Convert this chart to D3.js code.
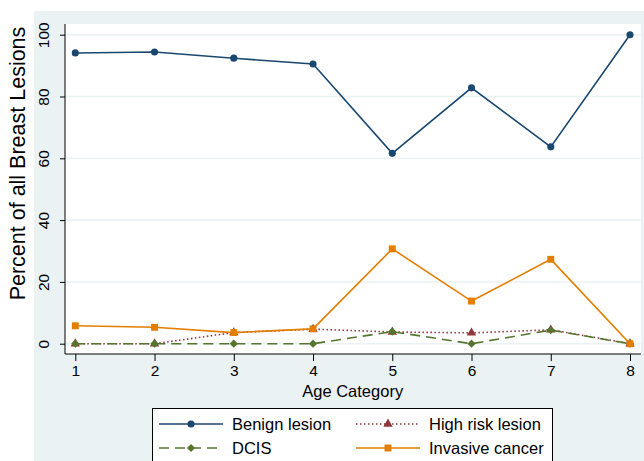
<!DOCTYPE html>
<meta charset="utf-8">
<style>
  body { margin: 0; background: #fff; }
  text { font-family: "Liberation Sans", Arial, sans-serif; fill: #000; }
</style>
<body>
<script src="https://d3js.org/d3.v7.min.js"></script>
<script>
    var ages = [1, 2, 3, 4, 5, 6, 7, 8];
    var benign = [94.1, 94.4, 92.4, 90.5, 61.6, 82.8, 63.7, 100];
    var highRisk = [0, 0, 3.6, 4.7, 3.8, 3.5, 4.5, 0];
    var dcis = [0, 0, 0, 0, 3.9, 0, 4.4, 0];
    var invasive = [5.8, 5.3, 3.6, 4.8, 30.7, 13.8, 27.3, 0];
    var yTicks = [0, 20, 40, 60, 80, 100];

    var width = 644, height = 461;

    // diamond drawn as a square turned 45 degrees, like Stata's marker
    var series = [
        {name: 'Benign lesion', values: benign, color: '#1a476f', dash: null, symbol: d3.symbolCircle, size: 40, rot: 0},
        {name: 'High risk lesion', values: highRisk, color: '#90353b', dash: '1.5,2.5', symbol: d3.symbolTriangle, size: 38, rot: 0},
        {name: 'DCIS', values: dcis, color: '#55752f', dash: '10,6', symbol: d3.symbolSquare, size: 34, rot: 45},
        {name: 'Invasive cancer', values: invasive, color: '#e37e00', dash: null, symbol: d3.symbolSquare, size: 48, rot: 0}
    ];

    var svg = d3.select('body').append('svg')
        .attr('width', width)
        .attr('height', height);

    // outer graph region
    svg.append('rect').attr('x', 34).attr('y', 11)
        .attr('width', width - 34).attr('height', height - 11)
        .attr('fill', '#eaf2f3');

    var plot = {left: 65, top: 24, right: 641, bottom: 354};
    svg.append('rect').attr('x', plot.left).attr('y', plot.top)
        .attr('width', plot.right - plot.left).attr('height', plot.bottom - plot.top)
        .attr('fill', '#fff');

    var x = d3.scaleLinear().domain([1, 8]).range([75.3, 630]);
    var y = d3.scaleLinear().domain([0, 100]).range([343.7, 34.7]);

    // gridlines
    svg.append('g').selectAll('line').data(yTicks).enter().append('line')
        .attr('x1', plot.left).attr('x2', plot.right)
        .attr('y1', d => y(d)).attr('y2', d => y(d))
        .attr('stroke', '#eaf2f3').attr('stroke-width', 1.5);

    // y axis
    var yAxis = svg.append('g')
        .attr('transform', 'translate(' + plot.left + ',0)')
        .call(d3.axisLeft(y).tickValues(yTicks).tickSize(5).tickPadding(5));
    yAxis.select('.domain').attr('d', 'M0,' + plot.top + 'V' + plot.bottom).attr('stroke', '#000');
    yAxis.selectAll('.tick line').attr('stroke', '#000');
    yAxis.selectAll('.tick text')
        .attr('font-size', 15.5)
        .attr('font-family', '"Liberation Sans", Arial, sans-serif')
        .attr('text-anchor', 'middle')
        .attr('x', 0).attr('dy', 0)
        .attr('transform', 'translate(-16.5,0) rotate(-90)');

    // x axis
    var xAxis = svg.append('g')
        .attr('transform', 'translate(0,' + plot.bottom + ')')
        .call(d3.axisBottom(x).tickValues(ages).tickSize(7).tickPadding(4).tickFormat(d3.format('d')));
    xAxis.select('.domain').attr('d', 'M' + plot.left + ',0H' + plot.right).attr('stroke', '#000');
    xAxis.selectAll('.tick line').attr('stroke', '#000');
    xAxis.selectAll('.tick text')
        .attr('font-size', 15.5)
        .attr('font-family', '"Liberation Sans", Arial, sans-serif');

    // axis titles
    svg.append('text')
        .attr('transform', 'translate(24.5,163.5) rotate(-90)')
        .attr('text-anchor', 'middle')
        .attr('font-size', 21.5)
        .text('Percent of all Breast Lesions');

    svg.append('text')
        .attr('x', 352.7)
        .attr('y', 397)
        .attr('text-anchor', 'middle')
        .attr('font-size', 16.5)
        .text('Age Category');

    // lines and markers
    var line = d3.line().x((d, i) => x(ages[i])).y(d => y(d));
    series.forEach(function (s) {
        svg.append('path')
            .datum(s.values)
            .attr('d', line)
            .attr('fill', 'none')
            .attr('stroke', s.color)
            .attr('stroke-width', 1.6)
            .attr('stroke-dasharray', s.dash);
        svg.append('g').selectAll('path').data(s.values).enter().append('path')
            .attr('transform', (d, i) => 'translate(' + x(ages[i]) + ',' + y(d) + ') rotate(' + s.rot + ')')
            .attr('d', d3.symbol().type(s.symbol).size(s.size))
            .attr('fill', s.color);
    });

    // legend
    var lg = svg.append('g');
    lg.append('rect').attr('x', 152.5).attr('y', 408.5)
        .attr('width', 400).attr('height', 60)
        .attr('fill', '#fff').attr('stroke', '#000').attr('stroke-width', 1);

    var legendItems = [
        {s: series[0], col: 0, row: 0},
        {s: series[1], col: 1, row: 0},
        {s: series[2], col: 0, row: 1},
        {s: series[3], col: 1, row: 1}
    ];
    var colX = [159, 356], rowY = [424, 448];
    legendItems.forEach(function (it) {
        var x0 = colX[it.col], yy = rowY[it.row];
        lg.append('line').attr('x1', x0).attr('x2', x0 + 64)
            .attr('y1', yy).attr('y2', yy)
            .attr('stroke', it.s.color).attr('stroke-width', 1.6)
            .attr('stroke-dasharray', it.s.dash);
        lg.append('path')
            .attr('transform', 'translate(' + (x0 + 32) + ',' + yy + ') rotate(' + it.s.rot + ')')
            .attr('d', d3.symbol().type(it.s.symbol).size(it.s.size))
            .attr('fill', it.s.color);
        lg.append('text').attr('x', x0 + 73).attr('y', yy + 6)
            .attr('font-size', 16.5)
            .text(it.s.name);
    });
</script>
</body>
